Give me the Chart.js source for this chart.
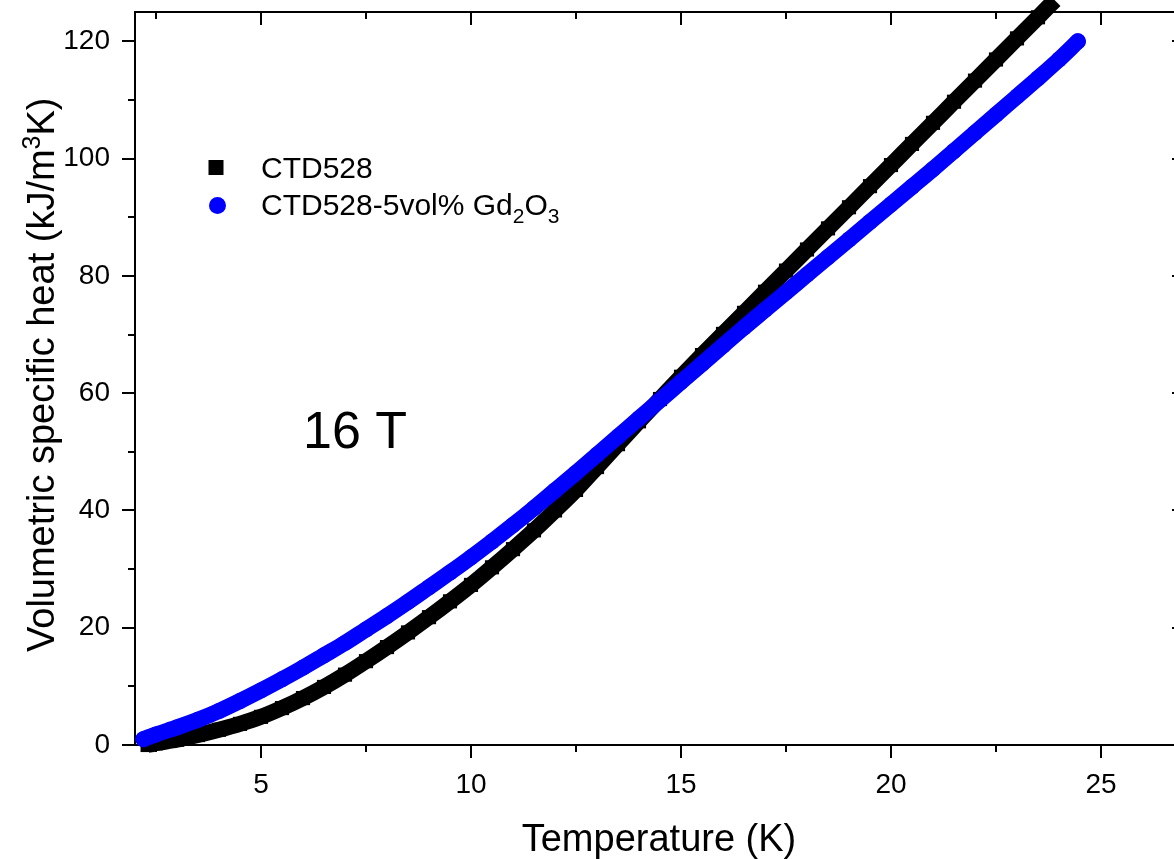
<!DOCTYPE html>
<html>
<head>
<meta charset="utf-8">
<script src="https://cdn.jsdelivr.net/npm/chart.js@4/dist/chart.umd.min.js"></script>
<style>
html,body{margin:0;padding:0;background:#fff;overflow:hidden;}
#wrap{width:1186px;height:859px;}
</style>
</head>
<body>
<div id="wrap"><canvas id="c" width="1186" height="859"></canvas></div>
<script>
// ---- data ----
const ctdT = [2.3, 2.5, 3, 3.5, 4, 4.5, 5, 5.5, 6, 6.5, 7, 7.5, 8, 8.5, 9, 9.5, 10, 10.5, 11, 11.5, 12, 12.5, 13, 13.5, 14, 14.5, 15, 15.5, 16, 16.5, 17, 17.5, 18, 18.5, 19, 19.5, 20, 20.5, 21, 21.5, 22, 22.5, 23, 23.5, 23.9];
const ctdC = [0.0, 0.3, 0.9, 1.7, 2.6, 3.6, 4.8, 6.3, 8.0, 9.9, 12.0, 14.3, 16.7, 19.2, 21.8, 24.5, 27.3, 30.3, 33.4, 36.6, 40.0, 43.5, 47.4, 51.3, 55.2, 59.0, 62.8, 66.5, 70.1, 73.7, 77.3, 80.9, 84.5, 88.1, 91.7, 95.3, 98.9, 102.5, 106.1, 109.7, 113.3, 116.9, 120.5, 124.1, 127.0];

const gdT = [2.2, 2.5, 3, 3.5, 4, 4.5, 5, 5.5, 6, 6.5, 7, 7.5, 8, 8.5, 9, 9.5, 10, 10.5, 11, 11.5, 12, 12.5, 13, 13.5, 14, 14.5, 15, 15.5, 16, 16.5, 17, 17.5, 18, 18.5, 19, 19.5, 20, 20.5, 21, 21.5, 22, 22.5, 23, 23.5, 24, 24.45];
const gdC = [1.0, 1.8, 3.0, 4.3, 5.8, 7.5, 9.3, 11.2, 13.2, 15.3, 17.4, 19.7, 22.0, 24.4, 26.9, 29.4, 32.0, 34.7, 37.5, 40.4, 43.4, 46.4, 49.5, 52.6, 55.7, 58.8, 61.9, 65.0, 68.1, 71.2, 74.2, 77.2, 80.2, 83.2, 86.2, 89.2, 92.2, 95.2, 98.2, 101.3, 104.4, 107.5, 110.6, 113.7, 116.9, 120.0];

const xTickValues = [5, 10, 15, 20, 25];
const xTickLabels = ['5', '10', '15', '20', '25'];
const xMinorTicks = [2.5, 7.5, 12.5, 17.5, 22.5];
const yTickValues = [0, 20, 40, 60, 80, 100, 120];
const yTickLabels = ['0', '20', '40', '60', '80', '100', '120'];
const yMinorTicks = [10, 30, 50, 70, 90, 110];

const seriesNames = ['CTD528', 'CTD528-5vol% Gd'];
const fieldLabel = '16 T';
const xTitle = 'Temperature (K)';
const yTitleParts = ['Volumetric specific heat (kJ/m', '3', 'K)'];

const FONT = "'Liberation Sans', Arial, sans-serif";

const framePlugin = {
  id: 'frame',
  beforeDatasetsDraw(chart) {
    const ctx = chart.ctx;
    const a = chart.chartArea;
    const xs = chart.scales.x, ys = chart.scales.y;
    ctx.save();
    ctx.strokeStyle = '#000';
    ctx.lineWidth = 2;
    ctx.lineCap = 'butt';
    ctx.beginPath();
    ctx.rect(a.left, a.top, a.right - a.left, a.bottom - a.top);
    ctx.stroke();
    const MAJ = 13, MIN = 7;
    ctx.beginPath();
    const xt = (v, len) => {
      const p = Math.round(xs.getPixelForValue(v));
      ctx.moveTo(p, a.bottom); ctx.lineTo(p, a.bottom + len);
      ctx.moveTo(p, a.top); ctx.lineTo(p, a.top + len);
    };
    const yt = (v, len) => {
      const p = Math.round(ys.getPixelForValue(v));
      ctx.moveTo(a.left, p); ctx.lineTo(a.left - len, p);
      ctx.moveTo(a.right, p); ctx.lineTo(a.right - len, p);
    };
    xTickValues.forEach(v => xt(v, MAJ));
    xMinorTicks.forEach(v => xt(v, MIN));
    yTickValues.forEach(v => yt(v, MAJ));
    yMinorTicks.forEach(v => yt(v, MIN));
    ctx.stroke();
    ctx.restore();
  },
  afterDraw(chart) {
    const ctx = chart.ctx;
    ctx.save();
    // legend
    ctx.fillStyle = '#000';
    ctx.fillRect(216 - 7.5, 167.5 - 7.5, 15, 15);
    ctx.fillStyle = '#0000ff';
    ctx.beginPath();
    ctx.arc(217.5, 205.5, 8.5, 0, Math.PI * 2);
    ctx.fill();
    ctx.fillStyle = '#000';
    ctx.textBaseline = 'alphabetic';
    ctx.textAlign = 'left';
    ctx.font = '30px ' + FONT;
    ctx.fillText(seriesNames[0], 261, 178);
    let x = 261;
    const base = 215;
    ctx.fillText(seriesNames[1], x, base);
    x += ctx.measureText(seriesNames[1]).width;
    ctx.font = '21px ' + FONT;
    ctx.fillText('2', x, base + 8);
    x += ctx.measureText('2').width;
    ctx.font = '30px ' + FONT;
    ctx.fillText('O', x, base);
    x += ctx.measureText('O').width;
    ctx.font = '21px ' + FONT;
    ctx.fillText('3', x, base + 8);
    // field label
    ctx.font = '52px ' + FONT;
    ctx.fillText(fieldLabel, 303, 448);
    // x title
    ctx.font = '38px ' + FONT;
    ctx.textAlign = 'center';
    ctx.fillText(xTitle, 659, 851);
    // y title (rotated, with superscript)
    ctx.textAlign = 'left';
    ctx.translate(54, 652);
    ctx.rotate(-Math.PI / 2);
    let p = 0;
    ctx.font = '38px ' + FONT;
    ctx.fillText(yTitleParts[0], p, 0);
    p += ctx.measureText(yTitleParts[0]).width;
    ctx.font = '25px ' + FONT;
    ctx.fillText(yTitleParts[1], p, -14);
    p += ctx.measureText(yTitleParts[1]).width;
    ctx.font = '38px ' + FONT;
    ctx.fillText(yTitleParts[2], p, 0);
    ctx.restore();
  }
};

const noPad = s => { s.paddingTop = 0; s.paddingBottom = 0; s.paddingLeft = 0; s.paddingRight = 0; };

new Chart(document.getElementById('c'), {
  type: 'line',
  data: {
    datasets: [
      {
        label: seriesNames[0],
        data: ctdT.map((t, i) => ({x: t, y: ctdC[i]})),
        borderColor: '#000',
        backgroundColor: '#000',
        borderWidth: 16,
        borderCapStyle: 'butt',
        cubicInterpolationMode: 'monotone',
        pointStyle: 'rect',
        pointRadius: 10,
        pointBorderWidth: 0,
        pointHoverRadius: 10,
        clip: false,
        order: 2
      },
      {
        label: seriesNames[1] + '2O3',
        data: gdT.map((t, i) => ({x: t, y: gdC[i]})),
        borderColor: '#0000ff',
        backgroundColor: '#0000ff',
        borderWidth: 16,
        borderCapStyle: 'round',
        borderJoinStyle: 'round',
        cubicInterpolationMode: 'monotone',
        pointStyle: 'circle',
        pointRadius: 8,
        pointBorderWidth: 0,
        pointHoverRadius: 8,
        clip: false,
        order: 1
      }
    ]
  },
  options: {
    responsive: false,
    animation: false,
    devicePixelRatio: 1,
    events: [],
    layout: {autoPadding: false, padding: {top: 12, right: 1, left: 0, bottom: 0}},
    plugins: {legend: {display: false}, tooltip: {enabled: false}},
    scales: {
      x: {
        type: 'linear',
        position: 'bottom',
        min: 2, max: 27,
        afterBuildTicks: s => { s.ticks = xTickValues.map(v => ({value: v})); },
        afterFit: s => { s.height = 114; noPad(s); },
        grid: {display: false, drawTicks: false},
        border: {display: false},
        ticks: {
          padding: 23,
          color: '#000',
          maxRotation: 0,
          font: {family: FONT, size: 28},
          callback: (v, i) => xTickLabels[i]
        },
        title: {display: false}
      },
      y: {
        type: 'linear',
        position: 'left',
        min: 0, max: 125,
        afterBuildTicks: s => { s.ticks = yTickValues.map(v => ({value: v})); },
        afterFit: s => { s.width = 135; noPad(s); },
        grid: {display: false, drawTicks: false},
        border: {display: false},
        ticks: {
          padding: 25,
          color: '#000',
          font: {family: FONT, size: 28},
          callback: (v, i) => yTickLabels[i]
        },
        title: {display: false}
      }
    }
  },
  plugins: [framePlugin]
});
</script>
</body>
</html>
